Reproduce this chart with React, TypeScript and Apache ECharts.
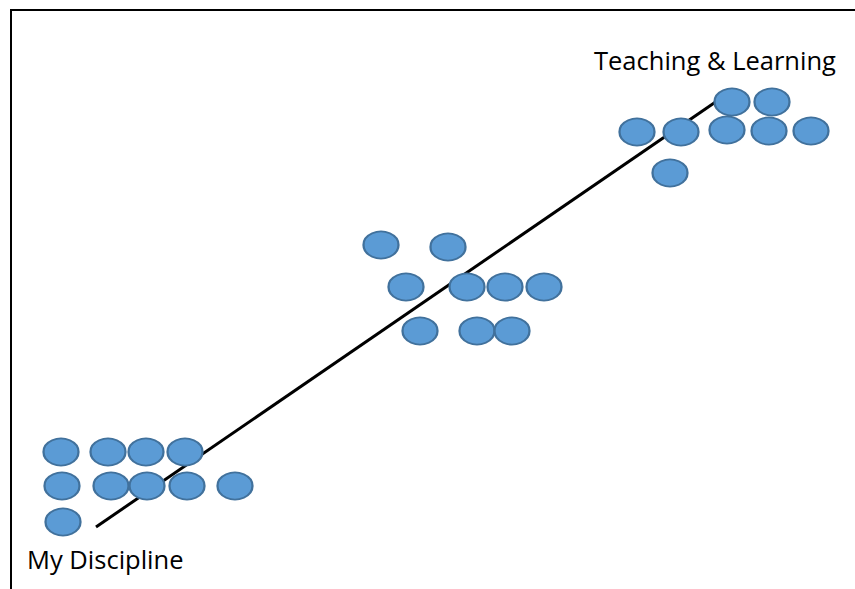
import React, { useEffect, useRef } from "react";
import * as echarts from "echarts";

// Diagram coordinates (x to the right, y downward)
const disciplineX = [61, 108, 146, 185, 62, 111, 147, 187, 235, 63];
const disciplineY = [452, 452, 452, 452, 486, 486, 486, 486, 486, 522];

const middleX = [381, 448, 406, 467, 505, 544, 420, 477, 512];
const middleY = [245, 247, 287, 287, 287, 287, 331, 331, 331];

const teachingX = [732, 772, 637, 681, 727, 769, 811, 670];
const teachingY = [102, 102, 132, 132, 130, 131, 131, 173];

const trendX = [96, 717];
const trendY = [527, 101];

const labels = ["My Discipline", "Teaching & Learning"];

const pairs = (xs: number[], ys: number[]) => xs.map((x, i) => [x, ys[i]]);

export default function App() {
  const ref = useRef<HTMLDivElement>(null);
  useEffect(() => {
    const chart = echarts.init(ref.current!, null, { renderer: "svg" });
    const points = [
      ...pairs(disciplineX, disciplineY),
      ...pairs(middleX, middleY),
      ...pairs(teachingX, teachingY),
    ];
    chart.setOption({
      animation: false,
      grid: { left: 0, right: 0, top: 0, bottom: 0 },
      xAxis: { type: "value", min: 0, max: 855, show: false },
      yAxis: { type: "value", min: 0, max: 589, inverse: true, show: false },
      graphic: [
        {
          type: "rect",
          shape: { x: 11, y: 10, width: 900, height: 650 },
          style: { fill: "none", stroke: "#000", lineWidth: 2 },
          z: 1,
        },
        {
          type: "text",
          x: 594,
          y: 47,
          style: {
            text: labels[1],
            fill: "#000",
            font: '25.5px "Open Sans"',
            verticalAlign: "top",
          },
        },
        {
          type: "text",
          x: 27,
          y: 546,
          style: {
            text: labels[0],
            fill: "#000",
            font: '25.5px "Open Sans"',
            verticalAlign: "top",
          },
        },
      ],
      series: [
        {
          type: "line",
          data: pairs(trendX, trendY),
          symbol: "none",
          lineStyle: { color: "#000", width: 3 },
          z: 2,
        },
        {
          type: "scatter",
          data: points,
          symbol: "circle",
          symbolSize: [35, 27],
          itemStyle: {
            color: "#5B9BD5",
            borderColor: "#41719C",
            borderWidth: 2,
            opacity: 1,
          },
          z: 3,
        },
      ],
    });
    return () => chart.dispose();
  }, []);
  return (
    <div
      ref={ref}
      style={{ position: "absolute", left: 0, top: 0, width: 855, height: 589, background: "#fff" }}
    />
  );
}
